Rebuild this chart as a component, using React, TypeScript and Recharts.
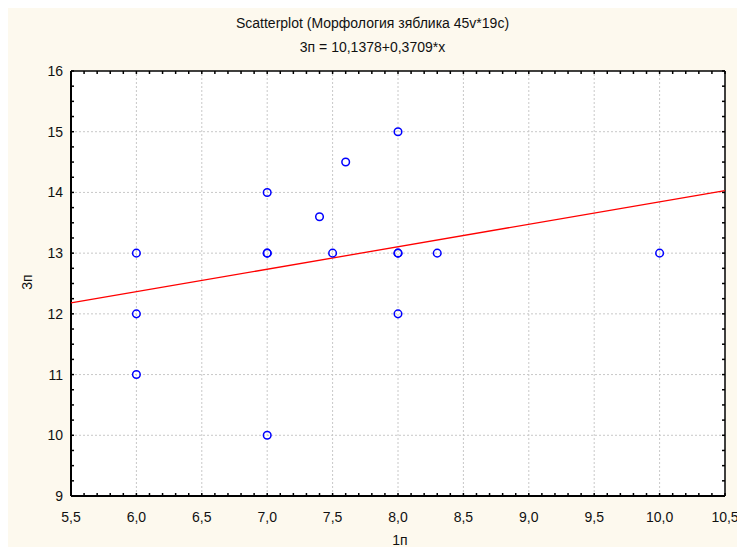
import React from "react";
import {
  ScatterChart,
  Scatter,
  XAxis,
  YAxis,
  ReferenceLine,
} from "recharts";

// points (1п vs 3п)
const pointsX = [6, 6, 6, 7, 7, 7, 7, 7.4, 7.5, 7.6, 8, 8, 8, 8, 8.3, 10];
const pointsY = [13, 12, 11, 14, 13, 13, 10, 13.6, 13, 14.5, 15, 13, 13, 12, 13, 13];

// regression line ends: 3п = 10,1378+0,3709*x
const fitX = [5.5, 10.5];
const fitY = [12.18, 14.03];

const xMajor = [5.5, 6, 6.5, 7, 7.5, 8, 8.5, 9, 9.5, 10, 10.5];
const yMajor = [9, 10, 11, 12, 13, 14, 15, 16];
const xMinor = Array.from({ length: 51 }, (_, i) => Math.round((5.5 + i * 0.1) * 10) / 10);
const yMinor = Array.from({ length: 29 }, (_, i) => 9 + i * 0.25);

const points = pointsX.map((x, i) => ({ x, y: pointsY[i] }));

const FONT = '"Liberation Sans", Arial, sans-serif';
const isMajor = (v: number, list: number[]) => list.some((m) => Math.abs(m - v) < 1e-6);

const BottomTick = (props: any) => {
  const { x, y, payload } = props;
  const v = payload.value;
  const major = isMajor(v, xMajor);
  return (
    <g>
      <line x1={x} x2={x} y1={y} y2={y - 3} stroke="#000" strokeWidth={1.5} />
      {major && (
        <text x={x} y={y + 26} textAnchor="middle" fontSize={14} fontFamily={FONT} fill="#111">
          {v.toFixed(1).replace(".", ",")}
        </text>
      )}
    </g>
  );
};

const TopTick = (props: any) => {
  const { x, y } = props;
  return <line x1={x} x2={x} y1={y} y2={y + 3} stroke="#000" strokeWidth={1.5} />;
};

const LeftTick = (props: any) => {
  const { x, y, payload } = props;
  const v = payload.value;
  const major = isMajor(v, yMajor);
  return (
    <g>
      <line x1={x} x2={x + 3} y1={y} y2={y} stroke="#000" strokeWidth={1.5} />
      {major && (
        <text x={x - 8} y={y + 5} textAnchor="end" fontSize={14} fontFamily={FONT} fill="#111">
          {v}
        </text>
      )}
    </g>
  );
};

const RightTick = (props: any) => {
  const { x, y } = props;
  return <line x1={x} x2={x - 3} y1={y} y2={y} stroke="#000" strokeWidth={1.5} />;
};

const Ring = (props: any) => {
  const { cx, cy } = props;
  return <circle cx={cx} cy={cy} r={3.8} fill="none" stroke="#0000ff" strokeWidth={1.5} />;
};

const Nothing = () => <g />;

export default function App() {
  return (
    <div style={{ position: "relative", margin: -8, width: 745, height: 555, background: "#fff", overflow: "hidden" }}>
      <div style={{ position: "absolute", left: 5, top: 5, width: 740, height: 550, background: "#fdf9ee" }} />
      <div style={{ position: "absolute", left: 71, top: 71, width: 654, height: 425, background: "#fff" }} />
      <div style={{ position: "absolute", left: 0, top: 0, width: 745, height: 555 }}>
        <ScatterChart width={745} height={555} margin={{ top: 70, right: 19, bottom: 0, left: 0 }}>
          {xMajor.slice(1, -1).map((v) => (
            <ReferenceLine key={"gx" + v} x={v} stroke="#c8c8c8" strokeDasharray="2 2" />
          ))}
          {yMajor.slice(1, -1).map((v) => (
            <ReferenceLine key={"gy" + v} y={v} stroke="#c8c8c8" strokeDasharray="2 2" />
          ))}
          <XAxis
            type="number"
            dataKey="x"
            domain={[5.5, 10.5]}
            ticks={xMinor}
            interval={0}
            tick={<BottomTick />}
            tickLine={false}
            tickSize={0}
            tickMargin={0}
            axisLine={false}
            height={59}
            allowDataOverflow
          />
          <XAxis
            xAxisId="top"
            orientation="top"
            type="number"
            dataKey="x"
            domain={[5.5, 10.5]}
            ticks={xMinor}
            interval={0}
            tick={<TopTick />}
            tickLine={false}
            tickSize={0}
            tickMargin={0}
            axisLine={false}
            height={1}
            allowDataOverflow
          />
          <YAxis
            type="number"
            dataKey="y"
            domain={[9, 16]}
            ticks={yMinor}
            interval={0}
            tick={<LeftTick />}
            tickLine={false}
            tickSize={0}
            tickMargin={0}
            axisLine={false}
            width={71}
            allowDataOverflow
          />
          <YAxis
            yAxisId="right"
            orientation="right"
            type="number"
            dataKey="y"
            domain={[9, 16]}
            ticks={yMinor}
            interval={0}
            tick={<RightTick />}
            tickLine={false}
            tickSize={0}
            tickMargin={0}
            axisLine={false}
            width={1}
            allowDataOverflow
          />
          <ReferenceLine x={5.5} stroke="#000" strokeWidth={2} ifOverflow="visible" />
          <ReferenceLine x={10.5} stroke="#000" strokeWidth={1.5} ifOverflow="visible" />
          <ReferenceLine y={16} stroke="#000" strokeWidth={1.5} ifOverflow="visible" />
          <ReferenceLine y={9} stroke="#000" strokeWidth={2} ifOverflow="visible" />
          <ReferenceLine
            segment={[
              { x: fitX[0], y: fitY[0] },
              { x: fitX[1], y: fitY[1] },
            ]}
            stroke="#ff0000"
            strokeWidth={1.3}
          />
          <Scatter data={points} xAxisId="top" yAxisId="right" shape={<Nothing />} isAnimationActive={false} />
          <Scatter data={points} shape={<Ring />} isAnimationActive={false} />
        </ScatterChart>
      </div>
      <div style={{ position: "absolute", left: 0, width: 745, top: 15, textAlign: "center", fontFamily: FONT, fontSize: 14, color: "#111" }}>
        Scatterplot (Морфология зяблика 45v*19c)
      </div>
      <div style={{ position: "absolute", left: 0, width: 745, top: 39, textAlign: "center", fontFamily: FONT, fontSize: 14, color: "#111" }}>
        3п = 10,1378+0,3709*x
      </div>
      <div style={{ position: "absolute", left: 365, width: 70, top: 532, textAlign: "center", fontFamily: FONT, fontSize: 14, color: "#111" }}>
        1п
      </div>
      <div style={{ position: "absolute", left: 12, top: 274, width: 30, textAlign: "center", transform: "rotate(-90deg)", fontFamily: FONT, fontSize: 14, color: "#111" }}>
        3п
      </div>
    </div>
  );
}
